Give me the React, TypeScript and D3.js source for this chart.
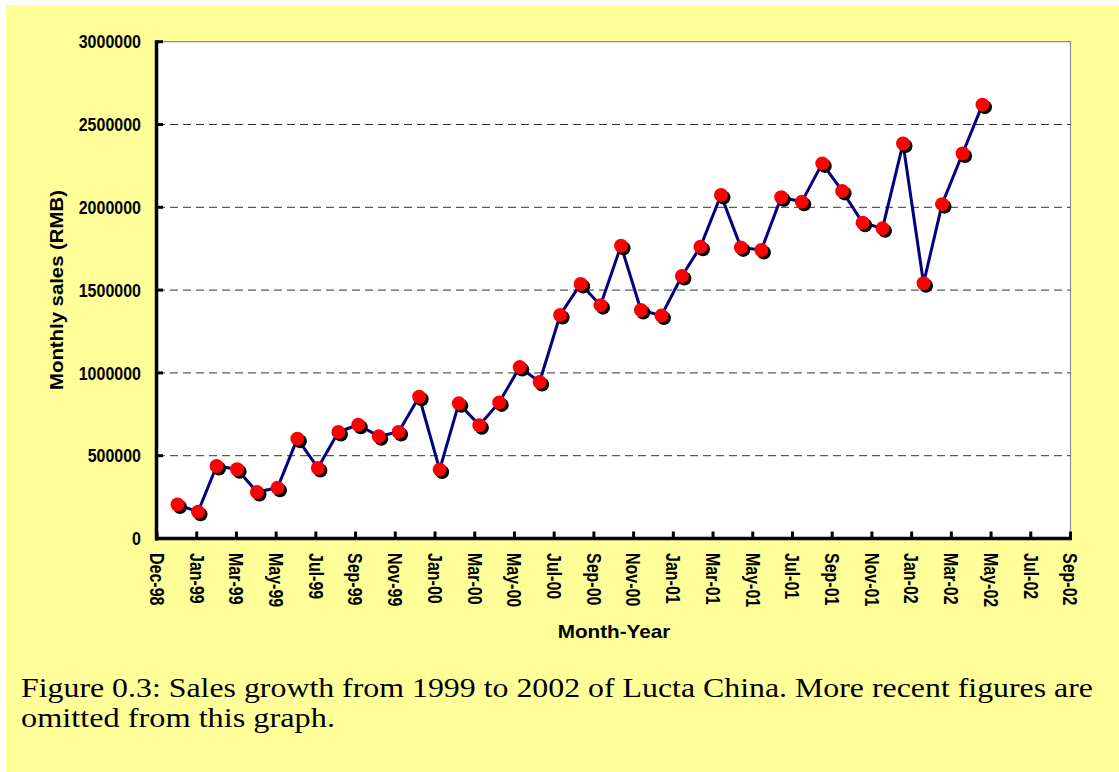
import React from "react";
import * as d3 from "d3";

const monthLabels = [
  "Jan-99", "Feb-99", "Mar-99", "Apr-99", "May-99", "Jun-99", "Jul-99", "Aug-99", "Sep-99", "Oct-99", "Nov-99", "Dec-99",
  "Jan-00", "Feb-00", "Mar-00", "Apr-00", "May-00", "Jun-00", "Jul-00", "Aug-00", "Sep-00", "Oct-00", "Nov-00", "Dec-00",
  "Jan-01", "Feb-01", "Mar-01", "Apr-01", "May-01", "Jun-01", "Jul-01", "Aug-01", "Sep-01", "Oct-01", "Nov-01", "Dec-01",
  "Jan-02", "Feb-02", "Mar-02", "Apr-02", "May-02",
];

const sales = [
  205000, 161000, 438000, 418000, 281000, 306000, 603000, 426000, 643000, 687000, 617000, 643000,
  856000, 416000, 816000, 684000, 822000, 1035000, 945000, 1350000, 1537000, 1409000, 1768000, 1380000,
  1346000, 1585000, 1762000, 2074000, 1758000, 1742000, 2061000, 2033000, 2265000, 2099000, 1907000, 1873000,
  2385000, 1541000, 2019000, 2325000, 2620000,
];

const xTickLabels = [
  "Dec-98", "Jan-99", "Mar-99", "May-99", "Jul-99", "Sep-99", "Nov-99", "Jan-00", "Mar-00", "May-00", "Jul-00", "Sep-00",
  "Nov-00", "Jan-01", "Mar-01", "May-01", "Jul-01", "Sep-01", "Nov-01", "Jan-02", "Mar-02", "May-02", "Jul-02", "Sep-02",
];

const yTicks = [0, 500000, 1000000, 1500000, 2000000, 2500000, 3000000];

const captionLines = [
  "Figure 0.3:  Sales growth from 1999 to 2002 of Lucta China. More recent figures are",
  "omitted from this graph.",
];

const W = 1119;
const H = 772;
const plot = { left: 157, right: 1070.5, top: 41.7, bottom: 538.5 };
const tickStepDays = 60;
const axisStart = new Date(1998, 11, 1);

const sansFont = "'Liberation Sans', Arial, Helvetica, sans-serif";
const serifFont = "'Liberation Serif', 'Times New Roman', serif";

export default function App() {
  const parse = d3.timeParse("%b-%y");
  const data = monthLabels.map((m, i) => ({ date: parse(m) as Date, value: sales[i] }));
  const tickDates = xTickLabels.map((_, i) => d3.timeDay.offset(axisStart, i * tickStepDays));

  const x = d3
    .scaleTime()
    .domain([axisStart, tickDates[tickDates.length - 1]])
    .range([plot.left, plot.right]);
  const y = d3.scaleLinear().domain([0, 3000000]).range([plot.bottom, plot.top]);

  const line = d3
    .line<{ date: Date; value: number }>()
    .x((d) => x(d.date))
    .y((d) => y(d.value));

  const r = 7;

  return (
    <div style={{ position: "absolute", left: 0, top: 0 }}>
      <svg width={W} height={H} style={{ display: "block" }}>
        <rect x={0} y={0} width={W} height={H} fill="#ffffff" />
        <rect x={6} y={5} width={W - 6} height={H - 5} fill="#FFFF99" />

        {/* plot area */}
        <rect
          x={plot.left}
          y={plot.top}
          width={plot.right - plot.left}
          height={plot.bottom - plot.top}
          fill="#ffffff"
        />
        <path
          d={`M${plot.left},${plot.top}H${plot.right}V${plot.bottom}`}
          fill="none"
          stroke="#8c8c8c"
          strokeWidth={1.2}
        />

        {/* grid lines */}
        {yTicks
          .filter((t) => t > 0 && t < 3000000)
          .map((t) => (
            <line
              key={"g" + t}
              x1={plot.left}
              x2={plot.right}
              y1={y(t)}
              y2={y(t)}
              stroke="#333333"
              strokeWidth={1}
              strokeDasharray="8,5"
            />
          ))}

        {/* axes */}
        <line x1={plot.left - 0.5} x2={plot.left - 0.5} y1={plot.top - 1.5} y2={plot.bottom + 2} stroke="#000" strokeWidth={3.5} />
        <line x1={plot.left - 2} x2={plot.right + 1.5} y1={plot.bottom} y2={plot.bottom} stroke="#000" strokeWidth={3.5} />

        {yTicks.map((t) => (
          <g key={"yt" + t}>
            <line x1={plot.left} x2={plot.left + 6} y1={y(t)} y2={y(t)} stroke="#000" strokeWidth={3} />
            <text
              transform={`translate(141,${y(t)}) scale(1,1.15)`}
              dy="0.36em"
              textAnchor="end"
              fontFamily={sansFont}
              fontWeight="bold"
              fontSize={16}
              fill="#000"
            >
              {t}
            </text>
          </g>
        ))}

        {tickDates.map((d, i) => (
          <g key={"xt" + i}>
            <line x1={x(d)} x2={x(d)} y1={plot.bottom} y2={plot.bottom - 7} stroke="#000" strokeWidth={3} />
            <text
              transform={`translate(${x(d)},553) rotate(90) scale(1,1.25)`}
              dy="0.36em"
              textAnchor="start"
              fontFamily={sansFont}
              fontWeight="bold"
              fontSize={16}
              fill="#000"
            >
              {xTickLabels[i]}
            </text>
          </g>
        ))}

        {/* axis titles */}
        <text
          transform={`translate(57,290) rotate(-90) scale(1.13,1)`}
          dy="0.36em"
          textAnchor="middle"
          fontFamily={sansFont}
          fontWeight="bold"
          fontSize={18}
          fill="#000"
        >
          Monthly sales (RMB)
        </text>
        <text
          transform={`translate(614,632) scale(1.15,1)`}
          dy="0.36em"
          textAnchor="middle"
          fontFamily={sansFont}
          fontWeight="bold"
          fontSize={18}
          fill="#000"
        >
          Month-Year
        </text>

        {/* data line */}
        <path d={line(data) || ""} fill="none" stroke="#000080" strokeWidth={3} strokeLinejoin="round" />

        {/* markers */}
        {data.map((d, i) => (
          <g key={"m" + i}>
            <circle cx={x(d.date) + 2.5} cy={y(d.value) + 2.5} r={r} fill="#000" />
            <circle cx={x(d.date)} cy={y(d.value)} r={r} fill="#ff0000" />
          </g>
        ))}

        {/* caption */}
        <text x={21} y={697} fontFamily={serifFont} fontSize={28} fill="#000" textLength={1072} lengthAdjust="spacingAndGlyphs">
          {captionLines[0]}
        </text>
        <text x={21} y={727} fontFamily={serifFont} fontSize={28} fill="#000" textLength={314} lengthAdjust="spacingAndGlyphs">
          {captionLines[1]}
        </text>
      </svg>
    </div>
  );
}
